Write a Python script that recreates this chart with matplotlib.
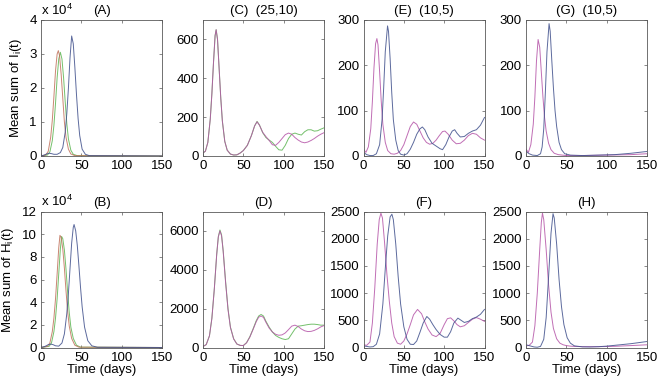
import matplotlib
matplotlib.use('Agg')
import matplotlib.pyplot as plt

plt.rcParams['font.family'] = ['Liberation Sans', 'DejaVu Sans']
plt.rcParams['font.size'] = 9.5

GREEN = '#5cb552'
RED = '#c0705a'
MAGENTA = '#b555a8'
BLUE = '#40508c'

# ---- Panel A: mean sum of I_i(t), units of 1e4 ----
A_red_t = [0, 6, 9, 12, 14, 16, 18, 20, 21.5, 23, 25, 27, 29, 31, 34, 37, 42, 150]
A_red_y = [0, 0.03, 0.14, 0.55, 1.05, 1.75, 2.5, 3.0, 3.1, 2.95, 2.4, 1.7, 1.0, 0.55, 0.2, 0.06, 0.01, 0]
A_green_t = [0, 8, 11, 14, 16, 18, 20, 22, 24, 26, 28, 30, 32, 34, 37, 40, 45, 150]
A_green_y = [0, 0.03, 0.12, 0.45, 0.9, 1.55, 2.3, 2.85, 3.05, 2.85, 2.3, 1.6, 0.95, 0.5, 0.17, 0.05, 0.01, 0]
A_blue_t = [0, 4, 7, 10, 13, 16, 20, 24, 27, 30, 32, 34, 36, 38, 40, 42, 44, 46, 48, 51, 55, 60, 150]
A_blue_y = [0, 0.03, 0.06, 0.08, 0.07, 0.05, 0.05, 0.1, 0.25, 0.7, 1.25, 2.0, 2.9, 3.53, 3.3, 2.6, 1.8, 1.1, 0.6, 0.2, 0.05, 0.01, 0]

# ---- Panel B: mean sum of H_i(t), units of 1e4 ----
B_red_t = [0, 8, 11, 14, 16, 18, 20, 22, 23.5, 25, 27, 29, 31, 33, 35, 38, 42, 47, 150]
B_red_y = [0, 0.1, 0.4, 1.4, 2.6, 4.3, 6.5, 8.8, 9.9, 9.7, 8.7, 7.0, 5.0, 3.2, 1.9, 0.8, 0.2, 0.03, 0]
B_green_t = [0, 10, 13, 16, 18, 20, 22, 24, 25.5, 27, 29, 31, 33, 35, 37, 40, 44, 49, 150]
B_green_y = [0, 0.1, 0.4, 1.4, 2.6, 4.3, 6.5, 8.7, 9.8, 9.6, 8.6, 6.9, 4.9, 3.1, 1.8, 0.8, 0.2, 0.03, 0]
B_blue_t = [0, 5, 9, 12, 15, 18, 22, 26, 29, 32, 34, 36, 38, 40, 41, 43, 45, 47, 49, 51, 54, 58, 63, 70, 150]
B_blue_y = [0, 0.1, 0.25, 0.3, 0.25, 0.15, 0.12, 0.4, 1.2, 3.0, 4.8, 7.0, 9.2, 10.6, 10.85, 10.3, 9.0, 7.2, 5.3, 3.6, 1.8, 0.6, 0.15, 0.02, 0]

# ---- Panel C: (25,10), I ----
C_green_t = [0, 3, 6, 9, 11, 13, 15, 16.3, 18, 20, 22, 24, 27, 30, 34, 38, 42, 46, 50, 55, 60, 64, 67, 70, 74,
             78, 82, 86, 90, 94, 98, 102, 106, 110, 114, 118, 122, 126, 130, 134, 138, 142, 146, 150]
C_green_y = [15, 25, 70, 190, 320, 480, 620, 650, 600, 450, 300, 180, 75, 30, 10, 5, 6, 15, 28, 55, 105, 155, 178, 160, 120,
             95, 82, 70, 50, 32, 30, 55, 90, 112, 118, 112, 108, 125, 135, 135, 128, 130, 138, 145]
C_mag_t = [0, 3, 6, 9, 11, 13, 15, 16.3, 18, 20, 22, 24, 27, 30, 34, 38, 42, 46, 50, 55, 60, 64, 67, 70, 74,
           78, 82, 86, 90, 94, 98, 102, 106, 110, 114, 118, 122, 126, 130, 134, 138, 142, 146, 150]
C_mag_y = [15, 25, 70, 190, 320, 480, 620, 650, 600, 450, 300, 180, 75, 30, 10, 5, 6, 15, 28, 55, 105, 155, 176, 158, 122,
           100, 80, 58, 55, 70, 90, 110, 118, 112, 95, 82, 72, 68, 72, 80, 90, 102, 112, 120]

# ---- Panel D: H ----
D_green_t = [0, 4, 8, 11, 14, 17, 19, 21, 23, 25, 28, 31, 34, 38, 42, 46, 50, 54, 58, 62, 66, 69, 72, 75,
             78, 82, 86, 90, 94, 98, 102, 106, 110, 114, 118, 122, 126, 130, 134, 138, 142, 146, 150]
D_green_y = [50, 150, 600, 1500, 3000, 4800, 5700, 6050, 5800, 5000, 3400, 2000, 1050, 450,
             180, 110, 100, 250, 550, 950, 1380, 1620, 1700, 1620,
             1350, 1050, 800, 620, 520, 450, 410, 450, 700, 950, 1100, 1120, 1150, 1180, 1200, 1200, 1180, 1150, 1150]
D_mag_t = [0, 4, 8, 11, 14, 17, 19, 21, 23, 25, 28, 31, 34, 38, 42, 46, 50, 54, 58, 62, 66, 69, 72, 75,
           78, 82, 86, 90, 94, 98, 102, 106, 110, 114, 118, 122, 126, 130, 134, 138, 142, 146, 150]
D_mag_y = [50, 150, 600, 1500, 3000, 4800, 5700, 6000, 5750, 4950, 3350, 1950, 1030, 440,
           180, 110, 100, 240, 530, 920, 1330, 1560, 1620, 1550,
           1300, 1000, 800, 680, 630, 650, 750, 920, 1100, 1150, 1080, 950, 860, 820, 830, 880, 960, 1060, 1130]

# ---- Panel E: (10,5), I ----
E_mag_t = [0, 3, 6, 9, 11, 13, 15, 16.6, 18, 20, 22, 24, 27, 30, 34, 38, 42, 46, 50, 54, 58, 62, 66, 70, 74, 78, 82,
           86, 90, 94, 98, 101, 105, 110, 115, 120, 125, 130, 135, 140, 145, 150]
E_mag_y = [15, 8, 20, 60, 120, 195, 248, 259, 245, 185, 120, 70, 30, 12, 5, 4, 6, 12, 25, 45, 65, 75, 70, 55, 40, 30, 26,
           28, 35, 45, 54, 55, 48, 35, 27, 28, 35, 45, 50, 48, 40, 35]
E_blue_t = [0, 4, 8, 12, 16, 20, 23, 25, 27, 29.8, 31, 33, 35, 37, 40, 43, 46, 50, 54, 58, 62, 66, 70, 73, 76, 80,
            85, 90, 95, 98, 102, 106, 110, 113, 116, 120, 125, 130, 135, 140, 145, 150]
E_blue_y = [8, 3, 1, 1, 5, 25, 80, 150, 230, 287, 275, 215, 140, 80, 35, 12, 4, 2, 5, 15, 30, 48, 60, 64, 58, 42,
            28, 22, 16, 14, 25, 42, 55, 58, 50, 42, 43, 50, 55, 58, 68, 85]

# ---- Panel F: H ----
F_mag_t = [0, 4, 8, 11, 14, 17, 19.5, 21.6, 23.5, 26, 29, 32, 35, 38, 42, 46, 50, 54, 58, 62, 67, 72, 76, 80,
           85, 90, 95, 100, 104, 108, 112, 116, 120, 125, 130, 135, 140, 145, 150]
F_mag_y = [50, 40, 100, 450, 1100, 1900, 2350, 2470, 2380, 1950, 1350, 850, 450, 200, 80, 60, 120, 250, 420, 600, 700, 620, 470, 340,
           230, 200, 260, 420, 530, 545, 490, 420, 380, 400, 460, 520, 550, 520, 480]
F_blue_t = [0, 4, 8, 12, 16, 20, 24, 27, 30, 33, 35.2, 37, 40, 43, 46, 50, 54, 58, 62, 66, 70, 74, 78.5, 82,
            86, 90, 95, 100, 104, 108, 112, 117, 121, 125, 130, 135, 140, 145, 150]
F_blue_y = [30, 20, 10, 15, 60, 250, 800, 1450, 2050, 2400, 2450, 2350, 1900, 1300, 800, 380, 150, 60, 55, 120, 280, 450, 570, 520,
            420, 330, 240, 190, 190, 290, 450, 540, 500, 460, 480, 530, 560, 610, 700]

# ---- Panel G: (10,5), I ----
G_mag_t = [0, 3, 6, 9, 11, 13, 15, 17, 19, 21, 23, 25, 28, 31, 35, 40, 50, 70, 100, 130, 150]
G_mag_y = [15, 8, 25, 70, 130, 210, 257, 240, 185, 130, 85, 55, 28, 14, 6, 3, 1, 1, 2, 3, 5]
G_blue_t = [0, 4, 8, 14, 18, 20, 22, 24, 26, 28.6, 30, 32, 34, 36, 38, 41, 44, 48, 55, 70, 90, 110, 130, 150]
G_blue_y = [10, 5, 2, 1, 5, 20, 60, 140, 230, 292, 275, 210, 150, 100, 65, 30, 14, 5, 2, 1, 2, 3, 6, 10]

# ---- Panel H: H ----
H_mag_t = [0, 4, 8, 11, 14, 17, 19, 20.4, 22, 25, 28, 31, 34, 38, 42, 46, 50, 55, 60, 70, 90, 110, 130, 150]
H_mag_y = [30, 40, 100, 400, 1000, 1800, 2300, 2470, 2350, 1800, 1150, 650, 350, 160, 80, 50, 35, 25, 20, 15, 15, 22, 35, 50]
H_blue_t = [0, 5, 10, 14, 18, 22, 25, 28, 31, 33.5, 35, 38, 41, 44, 47, 51, 55, 60, 70, 80, 90, 100, 110, 120, 130, 140, 150]
H_blue_y = [50, 30, 10, 5, 20, 150, 550, 1300, 2100, 2460, 2380, 1900, 1250, 750, 420, 180, 80, 30, 12, 10, 15, 25, 40, 55, 70, 90, 110]

W, H = 661, 380
COL_LEFT = [41, 203, 363.5, 526]
ROW_TOP = [20, 211.5]
AX_W, AX_H = 121, 136

PANELS = [
    # (row, col, title, ylim, yticks, series, exponent)
    (0, 0, '(A)', 4, [0, 1, 2, 3, 4],
     [(A_green_t, A_green_y, GREEN), (A_red_t, A_red_y, RED), (A_blue_t, A_blue_y, BLUE)], True),
    (1, 0, '(B)', 12, [0, 2, 4, 6, 8, 10, 12],
     [(B_green_t, B_green_y, GREEN), (B_red_t, B_red_y, RED), (B_blue_t, B_blue_y, BLUE)], True),
    (0, 1, '(C)  (25,10)', 700, [0, 200, 400, 600],
     [(C_green_t, C_green_y, GREEN), (C_mag_t, C_mag_y, MAGENTA)], False),
    (1, 1, '(D)', 7000, [0, 2000, 4000, 6000],
     [(D_green_t, D_green_y, GREEN), (D_mag_t, D_mag_y, MAGENTA)], False),
    (0, 2, '(E)  (10,5)', 300, [0, 100, 200, 300],
     [(E_mag_t, E_mag_y, MAGENTA), (E_blue_t, E_blue_y, BLUE)], False),
    (1, 2, '(F)', 2500, [0, 500, 1000, 1500, 2000, 2500],
     [(F_mag_t, F_mag_y, MAGENTA), (F_blue_t, F_blue_y, BLUE)], False),
    (0, 3, '(G)  (10,5)', 300, [0, 100, 200, 300],
     [(G_mag_t, G_mag_y, MAGENTA), (G_blue_t, G_blue_y, BLUE)], False),
    (1, 3, '(H)', 2500, [0, 500, 1000, 1500, 2000, 2500],
     [(H_mag_t, H_mag_y, MAGENTA), (H_blue_t, H_blue_y, BLUE)], False),
]

fig = plt.figure(figsize=(W / 100, H / 100), dpi=100)

for row, col, title, ymax, yticks, series, expo in PANELS:
    left = COL_LEFT[col] / W
    bottom = 1 - (ROW_TOP[row] + AX_H) / H
    ax = fig.add_axes([left, bottom, AX_W / W, AX_H / H])
    for t, y, c in series:
        ax.plot(t, y, color=c, linewidth=0.7, alpha=0.85)
    ax.set_xlim(0, 150)
    ax.set_ylim(0, ymax)
    ax.set_xticks([0, 50, 100, 150])
    ax.set_yticks(yticks)
    ax.tick_params(direction='in', length=2, width=0.5, top=True, right=True,
                   pad=3, labelsize=9.5, color='0.35')
    for s in ax.spines.values():
        s.set_linewidth(0.6)
        s.set_color('0.35')
    ax.set_title(title, fontsize=9.5, pad=4)
    if row == 1:
        ax.set_xlabel('Time (days)', fontsize=9.5, labelpad=0)
    if col == 0:
        ylab = 'Mean sum of I$_\\mathregular{i}$(t)' if row == 0 else 'Mean sum of H$_\\mathregular{i}$(t)'
        ax.set_ylabel(ylab, fontsize=9.5, labelpad=4)
    if expo:
        ax.text(0, 1.015, 'x 10$^\\mathregular{4}$', transform=ax.transAxes,
                ha='left', va='bottom', fontsize=9.5)

fig.savefig('out.png', dpi=100)
